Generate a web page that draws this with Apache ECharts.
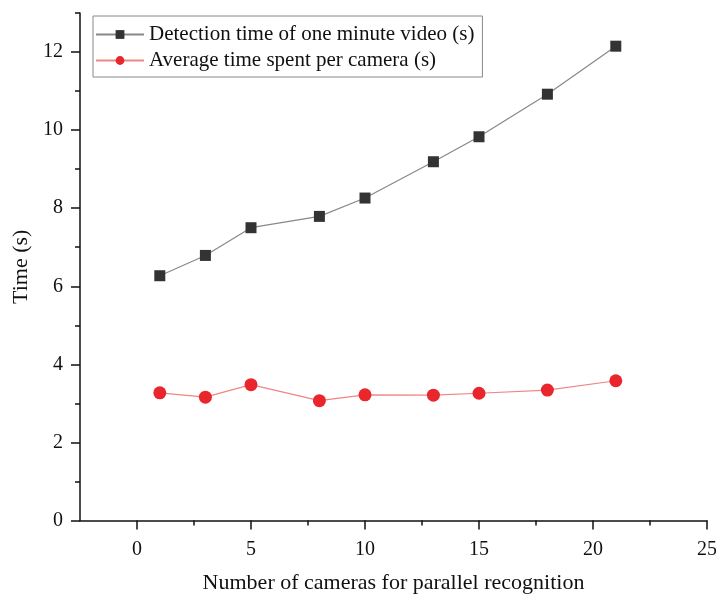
<!DOCTYPE html>
<html><head><meta charset="utf-8">
<script src="https://cdn.jsdelivr.net/npm/echarts@6/dist/echarts.min.js"></script>
<style>html,body{margin:0;padding:0;background:#fff}#c{width:716px;height:603px}</style>
</head><body><div id="c"></div>
<script>
var cameras = [1, 3, 5, 8, 10, 13, 15, 18, 21];
var detectionTime = [6.27, 6.79, 7.5, 7.79, 8.26, 9.19, 9.83, 10.92, 12.15];
var avgPerCamera = [3.27, 3.16, 3.48, 3.07, 3.22, 3.21, 3.26, 3.34, 3.58];
var seriesNames = ['Detection time of one minute video (s)', 'Average time spent per camera (s)'];
var xTitle = 'Number of cameras for parallel recognition';
var yTitle = 'Time (s)';
var xMajorTicks = [0, 5, 10, 15, 20, 25];
var xMinorTicks = [2.5, 7.5, 12.5, 17.5, 22.5];
var yMajorTicks = [0, 2, 4, 6, 8, 10, 12];
var yMinorTicks = [1, 3, 5, 7, 9, 11, 13];

function pairs(xs, ys){ return xs.map(function(x,i){return [x, ys[i]];}); }
var font = 'Liberation Serif, Times New Roman, serif';
var ink = '#111';
var chart = echarts.init(document.getElementById('c'));
chart.setOption({
  animation:false,
  backgroundColor:'#fff',
  textStyle:{fontFamily:font},
  grid:{left:80, right:9, top:13, bottom:82.5, containLabel:false, outerBoundsMode:'none'},
  legend:{
    left:93, top:16, orient:'vertical', padding:[8,8,6,2], itemGap:5,
    itemWidth:48, itemHeight:11,
    borderColor:'#888', borderWidth:1,
    textStyle:{fontFamily:font, fontSize:21, color:ink},
    data:seriesNames
  },
  xAxis:[{
    type:'value', min:-2.5, max:25,
    name:xTitle, nameLocation:'middle', nameGap:52,
    nameTextStyle:{fontFamily:font, fontSize:22, color:ink},
    axisLine:{onZero:false, lineStyle:{color:ink, width:1.5}},
    axisTick:{show:true, length:9, customValues:xMajorTicks, lineStyle:{color:ink, width:1.5}},
    axisLabel:{fontFamily:font, fontSize:20, color:ink, margin:19, customValues:xMajorTicks},
    splitLine:{show:false}
  },{
    type:'value', min:-2.5, max:25, position:'bottom',
    axisLine:{show:false, onZero:false},
    axisTick:{show:true, length:5, customValues:xMinorTicks, lineStyle:{color:ink, width:1.5}},
    axisLabel:{show:false},
    splitLine:{show:false}
  }],
  yAxis:[{
    type:'value', min:0, max:13,
    name:yTitle, nameLocation:'middle', nameGap:46,
    nameTextStyle:{fontFamily:font, fontSize:22, color:ink},
    axisLine:{show:true, onZero:false, lineStyle:{color:ink, width:1.5}},
    axisTick:{show:true, length:9, customValues:yMajorTicks, lineStyle:{color:ink, width:1.5}},
    axisLabel:{fontFamily:font, fontSize:20, color:ink, margin:17, customValues:yMajorTicks},
    splitLine:{show:false}
  },{
    type:'value', min:0, max:13, position:'left',
    axisLine:{show:false, onZero:false},
    axisTick:{show:true, length:5, customValues:yMinorTicks, lineStyle:{color:ink, width:1.5}},
    axisLabel:{show:false},
    splitLine:{show:false}
  }],
  series:[
    {name:seriesNames[0], type:'line', data:pairs(cameras, detectionTime),
     symbol:'rect', symbolSize:11,
     itemStyle:{color:'#333'}, lineStyle:{color:'#888', width:1.2}},
    {name:seriesNames[1], type:'line', data:pairs(cameras, avgPerCamera),
     symbol:'circle', symbolSize:13,
     itemStyle:{color:'#e8262c'}, lineStyle:{color:'#f08585', width:1.2}}
  ]
});
</script></body></html>
